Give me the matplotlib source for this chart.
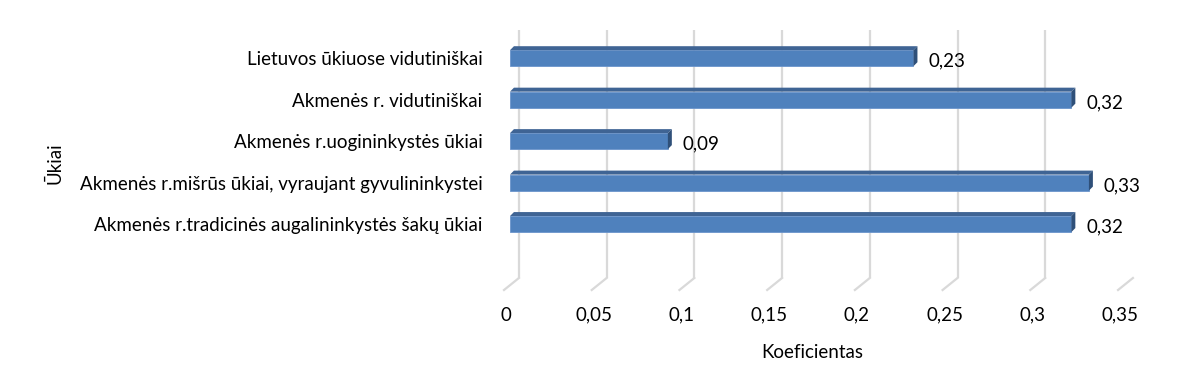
import numpy as np
import matplotlib.pyplot as plt
from matplotlib.patches import Polygon

plt.rcParams['font.family'] = ['Lato', 'DejaVu Sans']

categories = [
    'Akmenės r.tradicinės augalininkystės šakų ūkiai',
    'Akmenės r.mišrūs ūkiai, vyraujant gyvulininkystei',
    'Akmenės r.uogininkystės ūkiai',
    'Akmenės r. vidutiniškai',
    'Lietuvos ūkiuose vidutiniškai',
]
values = [0.32, 0.33, 0.09, 0.32, 0.23]
value_labels = ['0,32', '0,33', '0,09', '0,32', '0,23']
xticks = [0, 0.05, 0.1, 0.15, 0.2, 0.25, 0.3, 0.35]
xtick_labels = ['0', '0,05', '0,1', '0,15', '0,2', '0,25', '0,3', '0,35']

W, H = 1200, 371
fig = plt.figure(figsize=(W / 100, H / 100), dpi=100)
# axes spans front plane: x 506..1124 px, y 30..290 px
ax = fig.add_axes([506 / W, 1 - 290 / H, 618 / W, 260 / H])
ax.set_xlim(0, 0.35)
ax.set_ylim(-1.59, 4.68)

pxu = 0.35 / 618          # data units per pixel (x)
pyu = 6.27 / 260          # data units per pixel (y)

# back wall gridlines with a short floor diagonal
grid_c = '#d9d9d9'
for v in xticks:
    xb = v + 9 * pxu
    ax.plot([xb, xb], [4.68, -1.59 + 12 * pyu], color=grid_c, lw=1.6, zorder=1,
            solid_capstyle='butt')
    ax.plot([xb, v - 6 * pxu], [-1.59 + 12 * pyu, -1.59], color=grid_c, lw=1.6,
            zorder=1, clip_on=False)

# 3D bars
fs = 13.5
bh = 16 * pyu
dx, dy = 4 * pxu, 4 * pyu
ypos = np.arange(len(categories))
ax.barh(ypos, values, height=bh, color='#4f81bd', edgecolor='#6b95cc',
        linewidth=0.6, zorder=3)
for y, v, lab in zip(ypos, values, value_labels):
    top, bot = y + bh / 2, y - bh / 2
    ax.add_patch(Polygon([(0, top), (v, top), (v + dx, top + dy), (dx, top + dy)],
                         closed=True, facecolor='#3f6494', edgecolor='none', zorder=3))
    ax.add_patch(Polygon([(v, top), (v + dx, top + dy), (v + dx, bot + dy), (v, bot)],
                         closed=True, facecolor='#2f5079', edgecolor='none', zorder=3))
    ax.text(v + 15 * pxu, y - 3 * pyu, lab, ha='left', va='center', fontsize=fs,
            color='black')

ax.set_yticks(ypos)
ax.set_yticklabels(categories, fontsize=fs)
ax.tick_params(axis='y', length=0, pad=17)
ax.set_xticks([v - 4 * pxu for v in xticks])
ax.set_xticklabels(xtick_labels, fontsize=fs)
ax.tick_params(axis='x', length=0, pad=12)
for s in ax.spines.values():
    s.set_visible(False)
ax.set_facecolor('none')

fig.text(812 / W, 1 - 352 / H, 'Koeficientas', ha='center', va='center', fontsize=fs)
fig.text(55 / W, 1 - 163 / H, 'Ūkiai', ha='center', va='center', rotation=90, fontsize=fs)

fig.savefig('out.png', dpi=100)
